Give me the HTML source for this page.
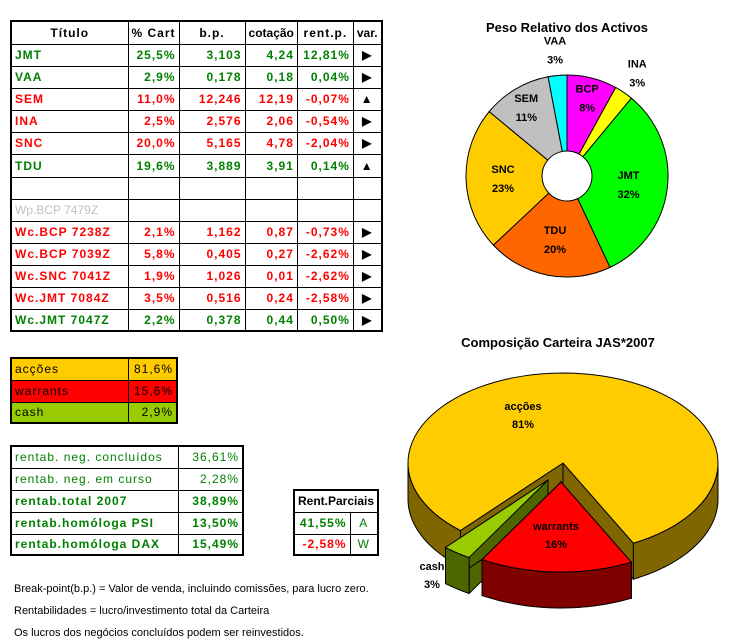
<!DOCTYPE html>
<html><head><meta charset="utf-8">
<style>
body{margin:0;width:751px;height:644px;background:#fff;position:relative;overflow:hidden;font-family:"Liberation Sans",sans-serif}
table{border-collapse:collapse;position:absolute}
td{border:1px solid #000;padding:0 3px;font-size:12px;font-weight:bold;letter-spacing:1px;white-space:nowrap;overflow:hidden}
.g{color:#008000}.r{color:#ff0000}.n{text-align:right}
.note{position:absolute;left:14px;font-size:11px;color:#000}
svg{position:absolute;left:0;top:0}
</style></head><body>
<table style="left:10px;top:20px;border:2px solid #000">
<colgroup><col style="width:117px"><col style="width:50px"><col style="width:66px"><col style="width:52px"><col style="width:56px"><col style="width:28px"></colgroup>
<tr style="height:23px"><td style="text-align:center">Título</td><td style="text-align:center">% Cart</td><td style="text-align:center">b.p.</td><td style="text-align:center;letter-spacing:0">cotação</td><td style="text-align:center">rent.p.</td><td style="text-align:center;letter-spacing:0">var.</td></tr>
<tr style="height:22px" class="g"><td>JMT</td><td class="n">25,5%</td><td class="n">3,103</td><td class="n">4,24</td><td class="n">12,81%</td><td style="text-align:center;color:#000">▶</td></tr>
<tr style="height:22px" class="g"><td>VAA</td><td class="n">2,9%</td><td class="n">0,178</td><td class="n">0,18</td><td class="n">0,04%</td><td style="text-align:center;color:#000">▶</td></tr>
<tr style="height:22px" class="r"><td>SEM</td><td class="n">11,0%</td><td class="n">12,246</td><td class="n">12,19</td><td class="n">-0,07%</td><td style="text-align:center;color:#000">▲</td></tr>
<tr style="height:22px" class="r"><td>INA</td><td class="n">2,5%</td><td class="n">2,576</td><td class="n">2,06</td><td class="n">-0,54%</td><td style="text-align:center;color:#000">▶</td></tr>
<tr style="height:22px" class="r"><td>SNC</td><td class="n">20,0%</td><td class="n">5,165</td><td class="n">4,78</td><td class="n">-2,04%</td><td style="text-align:center;color:#000">▶</td></tr>
<tr style="height:23px" class="g"><td>TDU</td><td class="n">19,6%</td><td class="n">3,889</td><td class="n">3,91</td><td class="n">0,14%</td><td style="text-align:center;color:#000">▲</td></tr>
<tr style="height:22px"><td></td><td></td><td></td><td></td><td></td><td></td></tr>
<tr style="height:22px"><td style="color:#c0c0c0;font-weight:normal;letter-spacing:0">Wp.BCP 7479Z</td><td></td><td></td><td></td><td></td><td></td></tr>
<tr style="height:22px" class="r"><td>Wc.BCP 7238Z</td><td class="n">2,1%</td><td class="n">1,162</td><td class="n">0,87</td><td class="n">-0,73%</td><td style="text-align:center;color:#000">▶</td></tr>
<tr style="height:22px" class="r"><td>Wc.BCP 7039Z</td><td class="n">5,8%</td><td class="n">0,405</td><td class="n">0,27</td><td class="n">-2,62%</td><td style="text-align:center;color:#000">▶</td></tr>
<tr style="height:22px" class="r"><td>Wc.SNC 7041Z</td><td class="n">1,9%</td><td class="n">1,026</td><td class="n">0,01</td><td class="n">-2,62%</td><td style="text-align:center;color:#000">▶</td></tr>
<tr style="height:22px" class="r"><td>Wc.JMT 7084Z</td><td class="n">3,5%</td><td class="n">0,516</td><td class="n">0,24</td><td class="n">-2,58%</td><td style="text-align:center;color:#000">▶</td></tr>
<tr style="height:22px" class="g"><td>Wc.JMT 7047Z</td><td class="n">2,2%</td><td class="n">0,378</td><td class="n">0,44</td><td class="n">0,50%</td><td style="text-align:center;color:#000">▶</td></tr>
</table>

<table style="left:10px;top:357px;border:2px solid #000">
<colgroup><col style="width:117px"><col style="width:49px"></colgroup>
<tr style="height:22px;background:#ffcc00"><td style="font-weight:normal">acções</td><td class="n" style="font-weight:normal">81,6%</td></tr>
<tr style="height:22px;background:#ff0000"><td style="font-weight:normal">warrants</td><td class="n" style="font-weight:normal">15,6%</td></tr>
<tr style="height:21px;background:#99cc00"><td style="font-weight:normal">cash</td><td class="n" style="font-weight:normal">2,9%</td></tr>
</table>

<table style="left:10px;top:445px;border:2px solid #000" class="g">
<colgroup><col style="width:167px"><col style="width:65px"></colgroup>
<tr style="height:22px" class="g"><td style="font-weight:normal">rentab. neg. concluídos</td><td class="n" style="font-weight:normal">36,61%</td></tr>
<tr style="height:22px" class="g"><td style="font-weight:normal">rentab. neg. em curso</td><td class="n" style="font-weight:normal">2,28%</td></tr>
<tr style="height:22px" class="g"><td>rentab.total 2007</td><td class="n">38,89%</td></tr>
<tr style="height:22px" class="g"><td>rentab.homóloga PSI</td><td class="n">13,50%</td></tr>
<tr style="height:21px" class="g"><td>rentab.homóloga DAX</td><td class="n">15,49%</td></tr>
</table>

<table style="left:293px;top:489px;border:2px solid #000">
<colgroup><col style="width:56px"><col style="width:28px"></colgroup>
<tr style="height:22px"><td colspan="2" style="letter-spacing:0">Rent.Parciais</td></tr>
<tr style="height:22px" class="g"><td class="n">41,55%</td><td style="text-align:center;font-weight:normal">A</td></tr>
<tr style="height:21px"><td class="n r">-2,58%</td><td style="text-align:center;font-weight:normal;color:#008000">W</td></tr>
</table>

<div class="note" style="top:583px">Break-point(b.p.) = Valor de venda, incluindo comissões, para lucro zero.</div>
<div class="note" style="top:605px">Rentabilidades = lucro/investimento total da Carteira</div>
<div class="note" style="top:627px">Os lucros dos negócios concluídos podem ser reinvestidos.</div>

<svg id="charts" width="751" height="644">
<text x="567" y="32" text-anchor="middle" font-size="13" font-weight="bold" font-family="Liberation Sans, sans-serif">Peso Relativo dos Activos</text>
<text x="558" y="347" text-anchor="middle" font-size="13" font-weight="bold" font-family="Liberation Sans, sans-serif">Composição Carteira JAS*2007</text>
</svg>
<script>
const donutLabels=["BCP","INA","JMT","TDU","SNC","SEM","VAA"];
const donutValues=[8,3,32,20,23,11,3];
const donutColors=["#ff00ff","#ffff00","#00ff00","#ff6600","#ffcc00","#c0c0c0","#00ffff"];
const donutLabelR=[81,125,62,64,64,80,127];
const pieLabels=["warrants","cash","acções"];
const pieValues=[16,3,81];
const pieTop=["#ff0000","#99cc00","#ffcc00"];
const pieSide=["#800000","#4d6600","#806600"];
const pieLabelPos=[[556,530],[432,570],[523,410]];

const svg=document.getElementById('charts');
const NS='http://www.w3.org/2000/svg';
function mk(tag,attrs){const e=document.createElementNS(NS,tag);for(const k in attrs)e.setAttribute(k,attrs[k]);svg.appendChild(e);return e;}
function txt(x,y,s,size){const t=mk('text',{x:x,y:y,'text-anchor':'middle','font-size':size||11,'font-weight':'bold','font-family':'Liberation Sans, sans-serif'});t.textContent=s;return t;}

// donut
const cx=567,cy=176,R=101,r0=25;
const total=donutValues.reduce((a,b)=>a+b,0);
let acc=0;
donutValues.forEach((v,i)=>{
  const a0=acc/total*2*Math.PI;acc+=v;const a1=acc/total*2*Math.PI;
  const P=(a,rr)=>[cx+rr*Math.sin(a),cy-rr*Math.cos(a)];
  const [x0,y0]=P(a0,R),[x1,y1]=P(a1,R),[x2,y2]=P(a1,r0),[x3,y3]=P(a0,r0);
  const lg=(a1-a0)>Math.PI?1:0;
  const p=mk('path',{d:`M${x0},${y0}A${R},${R} 0 ${lg} 1 ${x1},${y1}L${x2},${y2}A${r0},${r0} 0 ${lg} 0 ${x3},${y3}Z`,fill:donutColors[i],stroke:'#000','stroke-width':1});
  
  
  const am=(a0+a1)/2;const [lx,ly]=P(am,donutLabelR[i]);
  const t1=txt(lx,ly-5,donutLabels[i]);
  
  
  const t2=txt(lx,ly+14,Math.round(v/total*100)+'%');
  
  
});

// 3D pie
const pcx=563,pcy=463,rx=155,ry=90,D=36;
const ptot=pieValues.reduce((a,b)=>a+b,0);
const startDeg=63;
const offsets=[[-2,19],[-15,17],[0,0]];
const E=(a,ox,oy,dz)=>[pcx+ox+rx*Math.cos(a),pcy+oy+ry*Math.sin(a)+(dz||0)];
let pacc=0;
const slices=pieValues.map((v,i)=>{const a0=(startDeg+pacc/ptot*360)*Math.PI/180;pacc+=v;const a1=(startDeg+pacc/ptot*360)*Math.PI/180;return {i,a0,a1};});
[2,1,0].forEach(i=>{
  const s=slices[i];const [ox,oy]=offsets[i];
  const g=document.createElementNS(NS,'g');svg.appendChild(g);
  
  
  const add=(tag,attrs)=>{const e=document.createElementNS(NS,tag);for(const k in attrs)e.setAttribute(k,attrs[k]);g.appendChild(e);};
  const c=[pcx+ox,pcy+oy];
  // radial faces
  [s.a0,s.a1].forEach(a=>{const p=E(a,ox,oy),q=E(a,ox,oy,D);
    add('path',{d:`M${c[0]},${c[1]}L${p[0]},${p[1]}L${q[0]},${q[1]}L${c[0]},${c[1]+D}Z`,fill:pieSide[i],stroke:'#000','stroke-width':1});});
  // outer wall (front half only)
  const lo=Math.max(s.a0,0),hi=Math.min(s.a1,Math.PI);
  const segs=[[Math.max(s.a0,0),Math.min(s.a1,Math.PI)],[Math.max(s.a0,2*Math.PI),Math.min(s.a1,3*Math.PI)]];
  segs.forEach(([u,w])=>{if(w<=u)return;
    const n=40;let d='';for(let k=0;k<=n;k++){const a=u+(w-u)*k/n;const p=E(a,ox,oy);d+=(k?'L':'M')+p[0]+','+p[1];}
    for(let k=n;k>=0;k--){const a=u+(w-u)*k/n;const p=E(a,ox,oy,D);d+='L'+p[0]+','+p[1];}
    add('path',{d:d+'Z',fill:pieSide[i],stroke:'#000','stroke-width':1});});
  // top
  const n=80;let d=`M${c[0]},${c[1]}`;for(let k=0;k<=n;k++){const a=s.a0+(s.a1-s.a0)*k/n;const p=E(a,ox,oy);d+='L'+p[0]+','+p[1];}
  add('path',{d:d+'Z',fill:pieTop[i],stroke:'#000','stroke-width':1});
});
pieValues.forEach((v,i)=>{
  const [lx,ly]=pieLabelPos[i];
  const t1=txt(lx,ly,pieLabels[i]);
  
  
  const t2=txt(lx,ly+18,Math.round(v/ptot*100)+'%');
  
  
});
</script>
</body></html>
